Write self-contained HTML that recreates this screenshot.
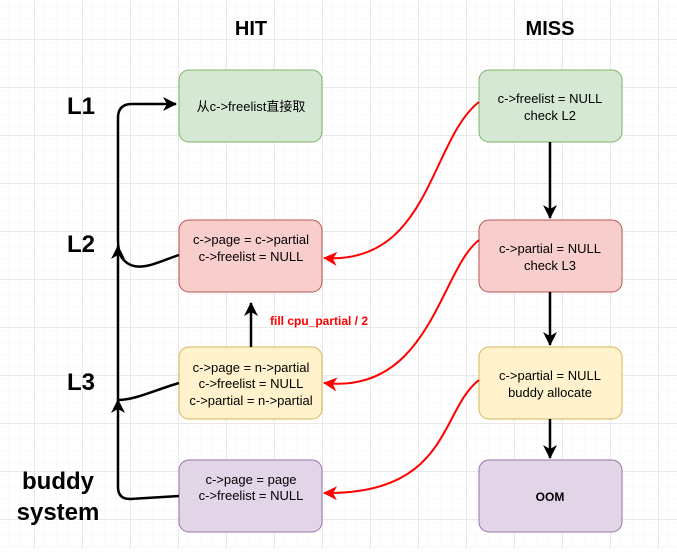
<!DOCTYPE html>
<html><head><style>
body{margin:0;width:677px;height:549px;overflow:hidden;background:#fff;font-family:"Liberation Sans","Noto Sans CJK SC",sans-serif;}
</style></head><body>
<svg width="677" height="549" xmlns="http://www.w3.org/2000/svg">
<defs>
<pattern id="mi" width="12" height="12" patternUnits="userSpaceOnUse" x="10" y="3">
<path d="M0 0H12M0 0V12" stroke="#f6f6f6" stroke-width="1" fill="none"/></pattern>
<pattern id="ma" width="48" height="48" patternUnits="userSpaceOnUse" x="34" y="39">
<rect width="48" height="48" fill="url(#mi)"/>
<path d="M0 0.5H48M0.5 0V48" stroke="#e8e8e8" stroke-width="1" fill="none"/></pattern>
<marker id="ab" markerWidth="16" markerHeight="16" refX="13" refY="7" orient="auto" markerUnits="userSpaceOnUse"><path d="M0,0 L14,7 L0,14 L4,7 Z" fill="#000"/></marker>
<marker id="ar" markerWidth="16" markerHeight="16" refX="13" refY="7" orient="auto" markerUnits="userSpaceOnUse"><path d="M0,0 L14,7 L0,14 L4,7 Z" fill="#f00"/></marker>
</defs>
<rect width="677" height="549" fill="url(#ma)"/>
<g font-weight="bold" font-size="20" text-anchor="middle" fill="#000">
<text x="251" y="35">HIT</text><text x="550" y="35">MISS</text></g>
<g font-weight="bold" font-size="24" fill="#000">
<text x="67" y="114">L1</text><text x="67" y="252">L2</text><text x="67" y="390">L3</text>
<text x="58" y="489" text-anchor="middle">buddy</text><text x="58" y="520" text-anchor="middle">system</text></g>
<g stroke-width="1">
<rect x="179" y="70" width="143" height="72" rx="10" fill="#d5e8d4" stroke="#82b366"/>
<rect x="179" y="220" width="143" height="72" rx="10" fill="#f8cecc" stroke="#b85450"/>
<rect x="179" y="347" width="143" height="72" rx="10" fill="#fff2cc" stroke="#d6b656"/>
<rect x="179" y="460" width="143" height="72" rx="10" fill="#e1d5e7" stroke="#9673a6"/>
<rect x="479" y="70" width="143" height="72" rx="10" fill="#d5e8d4" stroke="#82b366"/>
<rect x="479" y="220" width="143" height="72" rx="10" fill="#f8cecc" stroke="#b85450"/>
<rect x="479" y="347" width="143" height="72" rx="10" fill="#fff2cc" stroke="#d6b656"/>
<rect x="479" y="460" width="143" height="72" rx="10" fill="#e1d5e7" stroke="#9673a6"/>
</g>
<g font-size="13" text-anchor="middle" fill="#000">
<text x="251" y="111">从c-&gt;freelist直接取</text>
<text x="251" y="244">c-&gt;page = c-&gt;partial</text><text x="251" y="261">c-&gt;freelist = NULL</text>
<text x="251" y="372">c-&gt;page = n-&gt;partial</text><text x="251" y="388">c-&gt;freelist = NULL</text><text x="251" y="405">c-&gt;partial = n-&gt;partial</text>
<text x="251" y="484">c-&gt;page = page</text><text x="251" y="500">c-&gt;freelist = NULL</text>
<text x="550" y="103">c-&gt;freelist = NULL</text><text x="550" y="120">check L2</text>
<text x="550" y="253">c-&gt;partial = NULL</text><text x="550" y="270">check L3</text>
<text x="550" y="380">c-&gt;partial = NULL</text><text x="550" y="397">buddy allocate</text>
<text x="550" y="501" font-weight="bold" font-size="12">OOM</text>
</g>
<text x="270" y="325" font-size="12" font-weight="bold" fill="#f00">fill cpu_partial / 2</text>
<g stroke="#000" stroke-width="2.5" fill="none">
<path d="M550 142V218" marker-end="url(#ab)"/>
<path d="M550 292V345" marker-end="url(#ab)"/>
<path d="M550 419V458" marker-end="url(#ab)"/>
<path d="M251 347V303" marker-end="url(#ab)"/>
<path d="M179 255C155 263 135 275 122 258 Q118 252 118 240 L118 118 Q118 104 132 104 L176 104" marker-end="url(#ab)"/>
<path d="M179 383C155 390 135 400 118 400 L118 246" marker-end="url(#ab)"/>
<path d="M179 496L130 499 Q118 499 118 487 L118 400" marker-end="url(#ab)"/>
</g>
<g stroke="#f00" stroke-width="2" fill="none">
<path d="M479 102C430 140 430 265 324 258" marker-end="url(#ar)"/>
<path d="M479 240C440 270 430 395 324 383" marker-end="url(#ar)"/>
<path d="M479 380C440 410 450 495 324 493" marker-end="url(#ar)"/>
</g>
</svg>
</body></html>
